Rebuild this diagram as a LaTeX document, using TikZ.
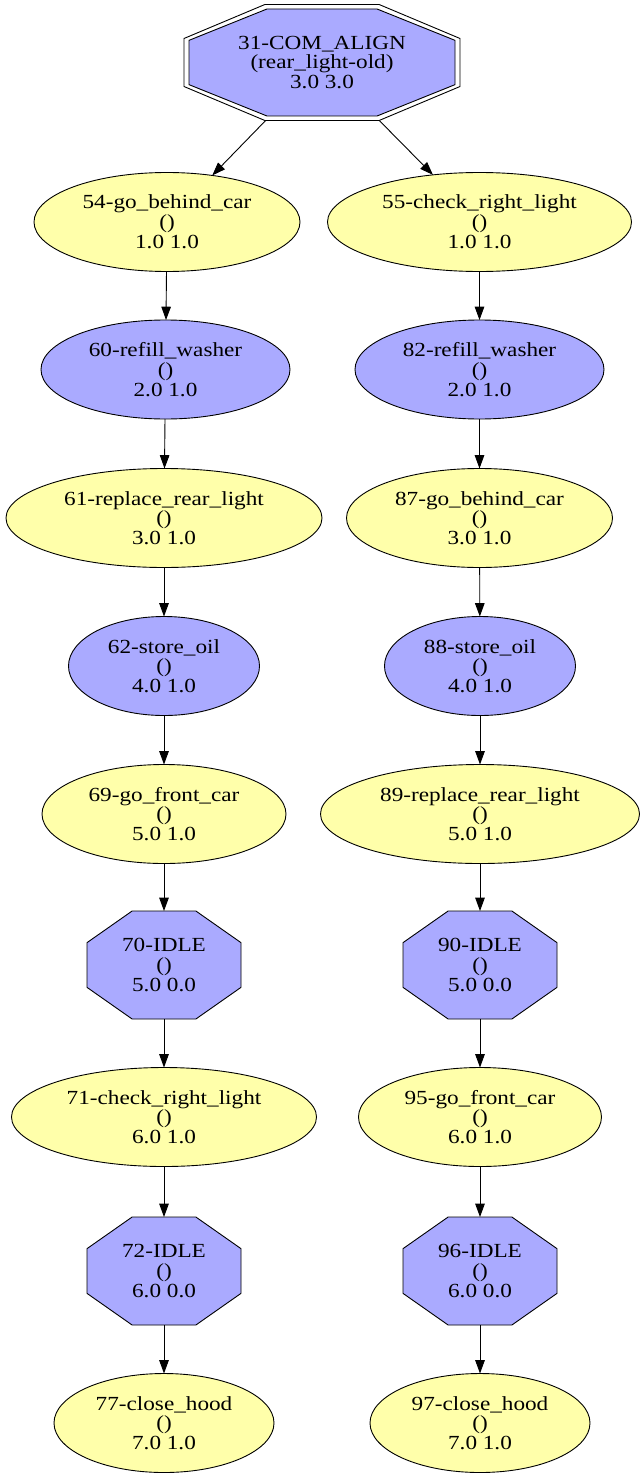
\documentclass[tikz,border=0pt]{standalone}
\usepackage{fontspec}
\setmainfont{Liberation Serif}[FakeStretch=1.16]
\usetikzlibrary{arrows.meta,shapes.geometric}
\definecolor{taskblue}{HTML}{AAAAFF}
\definecolor{taskyellow}{HTML}{FFFFAA}
\tikzset{
  lbl/.style={align=center, font=\fontsize{20}{19.8}\selectfont, inner sep=0pt, outer sep=0pt},
  oval/.style={lbl, ellipse, draw=black, line width=0.9pt, minimum height=99pt},
  yel/.style={oval, fill=taskyellow},
  blu/.style={oval, fill=taskblue},
  octbox/.style={lbl, rectangle, minimum width=154pt, minimum height=108pt},
  octline/.style={draw=black, line width=0.9pt},
  edge/.style={draw, line width=0.9pt, -{Triangle[length=13.3pt,width=9.5pt]}},
}
% octagon outline: style, centre x, centre y, half width, half height
\newcommand\octagonpath[5]{%
  \path[#1] ({#2-0.414*#4},{#3-#5}) -- ({#2+0.414*#4},{#3-#5})
    -- ({#2+#4},{#3-0.414*#5}) -- ({#2+#4},{#3+0.414*#5})
    -- ({#2+0.414*#4},{#3+#5}) -- ({#2-0.414*#4},{#3+#5})
    -- ({#2-#4},{#3+0.414*#5}) -- ({#2-#4},{#3-0.414*#5}) -- cycle;}
\begin{document}
\begin{tikzpicture}[x=1pt, y=-1pt]
\useasboundingbox (0,0) rectangle (642,1477);
\fill[white] (0,0) rectangle (642,1477);

% root: double octagon
\octagonpath{octline}{322}{62.5}{138}{58}
\octagonpath{octline, fill=taskblue}{322}{62.5}{133}{53.5}
\node[lbl, rectangle, minimum width=276pt, minimum height=116pt] (n31) at (322,62.5)
  {31-COM\_ALIGN\\(rear\_light-old)\\3.0 3.0};

% left branch
\node[yel, minimum width=266pt] (n54) at (167,222) {54-go\_behind\_car\\()\\1.0 1.0};
\node[blu, minimum width=249pt] (n60) at (165.5,369.5) {60-refill\_washer\\()\\2.0 1.0};
\node[yel, minimum width=316pt] (n61) at (164,518) {61-replace\_rear\_light\\()\\3.0 1.0};
\node[blu, minimum width=191pt] (n62) at (164,666) {62-store\_oil\\()\\4.0 1.0};
\node[yel, minimum width=244pt] (n69) at (164,814) {69-go\_front\_car\\()\\5.0 1.0};
\octagonpath{octline, fill=taskblue}{164}{965}{77}{54}
\node[octbox] (n70) at (164,965) {70-IDLE\\()\\5.0 0.0};
\node[yel, minimum width=305pt] (n71) at (164,1117) {71-check\_right\_light\\()\\6.0 1.0};
\octagonpath{octline, fill=taskblue}{164}{1271}{77}{54}
\node[octbox] (n72) at (164,1271) {72-IDLE\\()\\6.0 0.0};
\node[yel, minimum width=220pt] (n77) at (164,1423) {77-close\_hood\\()\\7.0 1.0};

% right branch
\node[yel, minimum width=304pt] (n55) at (479.5,222) {55-check\_right\_light\\()\\1.0 1.0};
\node[blu, minimum width=249pt] (n82) at (479.5,369.5) {82-refill\_washer\\()\\2.0 1.0};
\node[yel, minimum width=266pt] (n87) at (479.5,518) {87-go\_behind\_car\\()\\3.0 1.0};
\node[blu, minimum width=191pt] (n88) at (480,666) {88-store\_oil\\()\\4.0 1.0};
\node[yel, minimum width=319pt] (n89) at (480,814) {89-replace\_rear\_light\\()\\5.0 1.0};
\octagonpath{octline, fill=taskblue}{480}{965}{77}{54}
\node[octbox] (n90) at (480,965) {90-IDLE\\()\\5.0 0.0};
\node[yel, minimum width=243pt] (n95) at (480,1117) {95-go\_front\_car\\()\\6.0 1.0};
\octagonpath{octline, fill=taskblue}{480}{1271}{77}{54}
\node[octbox] (n96) at (480,1271) {96-IDLE\\()\\6.0 0.0};
\node[yel, minimum width=220pt] (n97) at (480,1423) {97-close\_hood\\()\\7.0 1.0};

% connectors
\draw[edge] (n31) -- (n54);
\draw[edge] (n31) -- (n55);
\draw[edge] (n54) -- (n60);
\draw[edge] (n60) -- (n61);
\draw[edge] (n61) -- (n62);
\draw[edge] (n62) -- (n69);
\draw[edge] (n69) -- (n70);
\draw[edge] (n70) -- (n71);
\draw[edge] (n71) -- (n72);
\draw[edge] (n72) -- (n77);
\draw[edge] (n55) -- (n82);
\draw[edge] (n82) -- (n87);
\draw[edge] (n87) -- (n88);
\draw[edge] (n88) -- (n89);
\draw[edge] (n89) -- (n90);
\draw[edge] (n90) -- (n95);
\draw[edge] (n95) -- (n96);
\draw[edge] (n96) -- (n97);
\end{tikzpicture}
\end{document}
